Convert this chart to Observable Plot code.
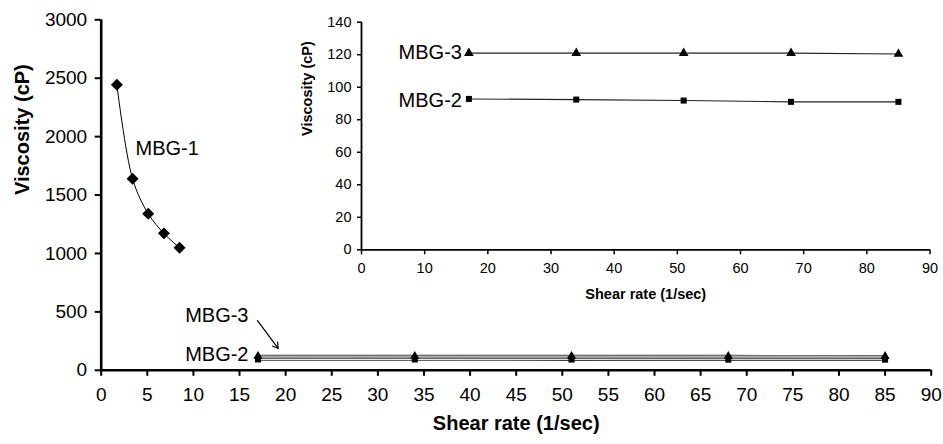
<!DOCTYPE html>
<html><head><meta charset="utf-8">
<script src="https://cdn.jsdelivr.net/npm/d3@7"></script>
<script src="https://cdn.jsdelivr.net/npm/@observablehq/plot@0.6"></script>
<style>
html,body{margin:0;padding:0;background:#fff;}
#wrap{position:relative;width:943px;height:444px;background:#fff;}
#wrap svg{position:absolute;left:0;top:0;}
</style></head><body><div id="wrap"></div>
<script>
// ---- data ----
const shearMBG1 = [1.7, 3.4, 5.1, 6.8, 8.5];
const viscMBG1 = [2445, 1640, 1340, 1172, 1048];
const shearMBG23 = [17, 34, 51, 68, 85];
const viscMBG2 = [92.8, 92.4, 91.8, 91.0, 91.0];
const viscMBG3 = [121, 121, 121, 121, 120.4];
const mainXTicks = [0,5,10,15,20,25,30,35,40,45,50,55,60,65,70,75,80,85,90];
const mainYTicks = [0,500,1000,1500,2000,2500,3000];
const insetXTicks = [0,10,20,30,40,50,60,70,80,90];
const insetYTicks = [0,20,40,60,80,100,120,140];
const xTitle = "Shear rate (1/sec)";
const yTitle = "Viscosity (cP)";
const seriesNames = ["MBG-1", "MBG-2", "MBG-3"];
// annotation anchors (data units)
const mainLabelStart = [{text: seriesNames[0], x: 3.72, y: 1896}];
const mainLabelsEnd = [
  {text: seriesNames[2], x: 15.97, y: 468},
  {text: seriesNames[1], x: 15.97, y: 135}
];
const mainArrow = [{x1: 16.95, y1: 426, x2: 19.2, y2: 186}];
const insetLabels = [
  {text: seriesNames[2], x: 15.9, y: 121},
  {text: seriesNames[1], x: 15.9, y: 92}
];

const font = "'Liberation Sans', Arial, sans-serif";
const fmt = d => String(d);
const m1 = shearMBG1.map((x, i) => ({x, y: viscMBG1[i]}));
const m2 = shearMBG23.map((x, i) => ({x, y: viscMBG2[i]}));
const m3 = shearMBG23.map((x, i) => ({x, y: viscMBG3[i]}));

const main = Plot.plot({
  width: 943, height: 444,
  marginLeft: 100.7, marginRight: 12.3, marginTop: 19.3, marginBottom: 74.2,
  style: {fontFamily: font, fontSize: "19px", background: "transparent", color: "#000", overflow: "visible"},
  x: {domain: [0, 90]},
  y: {domain: [0, 3000]},
  marks: [
    Plot.axisX({ticks: mainXTicks, tickSize: 6, tickPadding: 11, strokeWidth: 2, label: null, tickFormat: fmt}),
    Plot.axisY({ticks: mainYTicks, tickSize: 6, tickPadding: 8, strokeWidth: 2, label: null, tickFormat: fmt}),
    Plot.ruleX([0], {strokeWidth: 2.6}),
    Plot.ruleY([0], {strokeWidth: 2.6}),
    Plot.line(m3, {x: "x", y: "y", stroke: "#333", strokeWidth: 2.6}),
    Plot.line(m2, {x: "x", y: "y", stroke: "#333", strokeWidth: 2.6}),
    Plot.line(m3, {x: "x", y: "y", stroke: "#fff", strokeWidth: 0.9}),
    Plot.line(m2, {x: "x", y: "y", stroke: "#fff", strokeWidth: 0.9}),
    Plot.dot(m2, {x: "x", y: "y", symbol: "square", fill: "#000", r: 3.4}),
    Plot.dot(m3, {x: "x", y: "y", symbol: "triangle", fill: "#000", r: 3.4}),
    Plot.line(m1, {x: "x", y: "y", curve: "catmull-rom", stroke: "#000", strokeWidth: 1}),
    Plot.dot(m1, {x: "x", y: "y", symbol: "diamond2", fill: "#000", r: 5.4}),
    Plot.text(mainLabelStart, {x: "x", y: "y", text: "text", textAnchor: "start", fontSize: 20, fill: "#000"}),
    Plot.text(mainLabelsEnd, {x: "x", y: "y", text: "text", textAnchor: "end", fontSize: 20, fill: "#000"}),
    Plot.arrow(mainArrow, {x1: "x1", y1: "y1", x2: "x2", y2: "y2", stroke: "#000", strokeWidth: 1.2, headLength: 8}),
    Plot.text([xTitle], {frameAnchor: "bottom", dy: 60, text: d => d, fontWeight: "bold", fontSize: 20}),
    Plot.text([yTitle], {frameAnchor: "left", dx: -79, rotate: -90, text: d => d, fontWeight: "bold", fontSize: 20})
  ]
});

const inset = Plot.plot({
  width: 943, height: 444,
  marginLeft: 361, marginRight: 13.5, marginTop: 21.7, marginBottom: 194.7,
  style: {fontFamily: font, fontSize: "14.5px", background: "transparent", color: "#000", overflow: "visible"},
  x: {domain: [0, 90]},
  y: {domain: [0, 140]},
  marks: [
    Plot.axisX({ticks: insetXTicks, tickSize: 5, tickPadding: 8, strokeWidth: 1.5, label: null, tickFormat: fmt}),
    Plot.axisY({ticks: insetYTicks, tickSize: 4, tickPadding: 6, strokeWidth: 1.5, label: null, tickFormat: fmt}),
    Plot.ruleX([0], {strokeWidth: 1.8}),
    Plot.ruleY([0], {strokeWidth: 1.8}),
    Plot.line(m3, {x: "x", y: "y", stroke: "#222", strokeWidth: 1.1}),
    Plot.line(m2, {x: "x", y: "y", stroke: "#222", strokeWidth: 1.1}),
    Plot.dot(m3, {x: "x", y: "y", symbol: "triangle", fill: "#000", r: 3.6}),
    Plot.dot(m2, {x: "x", y: "y", symbol: "square", fill: "#000", r: 3.4}),
    Plot.text(insetLabels, {x: "x", y: "y", text: "text", textAnchor: "end", fontSize: 20, fill: "#000"}),
    Plot.text([xTitle], {frameAnchor: "bottom", dy: 48.7, text: d => d, fontWeight: "bold", fontSize: 14.5}),
    Plot.text([yTitle], {frameAnchor: "left", dx: -54, rotate: -90, text: d => d, fontWeight: "bold", fontSize: 14.5})
  ]
});

const wrap = document.getElementById("wrap");
wrap.appendChild(main);
wrap.appendChild(inset);
</script>
</body></html>
